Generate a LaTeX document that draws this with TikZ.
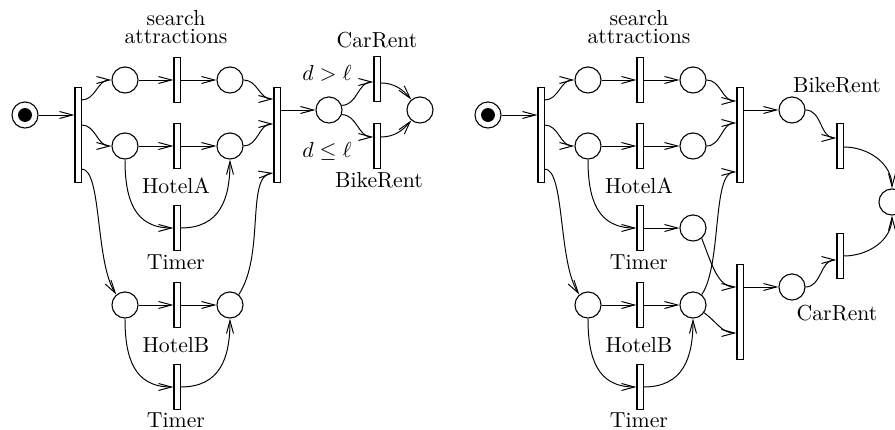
\documentclass[tikz,border=0pt]{standalone}
\usetikzlibrary{arrows.meta,calc}
\begin{document}
\begin{tikzpicture}[x=0.46pt,y=-0.46pt,
  place/.style={circle,draw,line width=0.5pt,minimum size=12pt,inner sep=0pt},
  trans/.style={rectangle,draw,line width=0.5pt,minimum width=2.8pt,minimum height=21pt,inner sep=0pt},
  bigtrans/.style={trans,minimum height=44pt},
  lbl/.style={inner sep=0pt,align=center},
  arr/.style={line width=0.45pt,-{Straight Barb[length=6pt,width=3.2pt]}}]
\useasboundingbox (0,0) rectangle (895,430);

% ---------- left net ----------
\node[place] (p0) at (25,115) {};
\fill (p0) circle (3.2pt);
\node[bigtrans] (t0) at (78,135) {};
\node[place] (pA1) at (125,80) {};
\node[trans] (tS) at (177,80) {};
\node[place] (pA2) at (230,80) {};
\node[place] (pB1) at (125,146) {};
\node[trans] (tHA) at (177,146) {};
\node[place] (pB2) at (230,146) {};
\node[trans] (tT1) at (177,228) {};
\node[place] (pC1) at (125,305) {};
\node[trans] (tHB) at (177,305) {};
\node[place] (pC2) at (230,305) {};
\node[trans] (tT2) at (177,387) {};
\node[bigtrans] (tj) at (277,135) {};
\node[place] (pd) at (329,110) {};
\node[trans] (tCar) at (377,79) {};
\node[trans] (tBike) at (377,146) {};
\node[place] (pf) at (420,110) {};

\node[lbl] (lS) at (176,27) {search\\[-3.5pt]attractions};
\node[lbl] (lHA) at (176,186) {HotelA};
\node[lbl] (lT1) at (176,262) {Timer};
\node[lbl] (lHB) at (176,345) {HotelB};
\node[lbl] (lT2) at (176,420) {Timer};
\node[lbl] (lCar) at (377,40) {CarRent};
\node[lbl] (lBike) at (379,180) {BikeRent};
\node[lbl] (lg) at (327,73) {$d>\ell$};
\node[lbl] (ll) at (327,151) {$d\leq\ell$};

\draw[arr] (p0) -- (t0.west |- p0);
\draw[arr] ($(t0.east)+(0,-35)$) to[out=0,in=180] (pA1);
\draw[arr] ($(t0.east)+(0,-10)$) to[out=0,in=180] (pB1);
\draw[arr] ($(t0.east)+(0,34)$) .. controls (102,169) and (95,262) .. (pC1.130);
\draw[arr] (pA1) -- (tS);
\draw[arr] (tS) -- (pA2);
\draw[arr] (pB1) -- (tHA);
\draw[arr] (tHA) -- (pB2);
\draw[arr] (pC1) -- (tHB);
\draw[arr] (tHB) -- (pC2);
\draw[arr] (pB1) to[out=-90,in=180,looseness=1.2] (tT1.west);
\draw[arr] (tT1.east) to[out=0,in=-90,looseness=1.2] (pB2);
\draw[arr] (pC1) to[out=-90,in=180,looseness=1.2] (tT2.west);
\draw[arr] (tT2.east) to[out=0,in=-90,looseness=1.2] (pC2);
\draw[arr] (pA2) to[out=0,in=180] ($(tj.west)+(0,-36)$);
\draw[arr] (pB2) to[out=0,in=180] ($(tj.west)+(0,-11)$);
\draw[arr] (pC2.50) .. controls (265,255) and (246,176) .. ($(tj.west)+(0,38)$);
\draw[arr] (tj.east |- pd) -- (pd);
\draw[arr] (pd.20) to[out=0,in=180] ($(tCar.west)+(0,3)$);
\draw[arr] (pd.-20) to[out=0,in=180] ($(tBike.west)+(0,-9)$);
\draw[arr] ($(tCar.east)+(0,4)$) to[out=0,in=130] (pf);
\draw[arr] ($(tBike.east)+(0,-9)$) to[out=0,in=230] (pf);

% ---------- right net ----------
\node[place] (q0) at (488,115) {};
\fill (q0) circle (3.2pt);
\node[bigtrans] (s0) at (541,135) {};
\node[place] (qA1) at (588,80) {};
\node[trans] (sS) at (640,80) {};
\node[place] (qA2) at (693,80) {};
\node[place] (qB1) at (588,146) {};
\node[trans] (sHA) at (640,146) {};
\node[place] (qB2) at (693,146) {};
\node[trans] (sT1) at (640,228) {};
\node[place] (qT1) at (693,228) {};
\node[place] (qC1) at (588,305) {};
\node[trans] (sHB) at (640,305) {};
\node[place] (qC2) at (693,305) {};
\node[trans] (sT2) at (640,387) {};
\node[bigtrans] (sj1) at (740,135) {};
\node[bigtrans] (sj2) at (740,312) {};
\node[place] (qBike) at (792,110) {};
\node[trans] (sBike) at (840,146) {};
\node[place] (qCar) at (792,287) {};
\node[trans] (sCar) at (840,256) {};
\node[place] (qf) at (892,202) {};

\node[lbl] (mS) at (639,27) {search\\[-3.5pt]attractions};
\node[lbl] (mHA) at (639,186) {HotelA};
\node[lbl] (mT1) at (639,262) {Timer};
\node[lbl] (mHB) at (639,345) {HotelB};
\node[lbl] (mT2) at (639,420) {Timer};
\node[lbl] (mBike) at (837,85) {BikeRent};
\node[lbl] (mCar) at (837,313) {CarRent};

\draw[arr] (q0) -- (s0.west |- q0);
\draw[arr] ($(s0.east)+(0,-35)$) to[out=0,in=180] (qA1);
\draw[arr] ($(s0.east)+(0,-10)$) to[out=0,in=180] (qB1);
\draw[arr] ($(s0.east)+(0,34)$) .. controls (565,169) and (558,262) .. (qC1.130);
\draw[arr] (qA1) -- (sS);
\draw[arr] (sS) -- (qA2);
\draw[arr] (qB1) -- (sHA);
\draw[arr] (sHA) -- (qB2);
\draw[arr] (sT1) -- (qT1);
\draw[arr] (qC1) -- (sHB);
\draw[arr] (sHB) -- (qC2);
\draw[arr] (qB1) to[out=-90,in=180,looseness=1.2] (sT1.west);
\draw[arr] (qC1) to[out=-90,in=180,looseness=1.2] (sT2.west);
\draw[arr] (sT2.east) to[out=0,in=-90,looseness=1.2] (qC2);
\draw[arr] (qA2) to[out=0,in=180] ($(sj1.west)+(0,-34)$);
\draw[arr] (qB2) to[out=0,in=180] ($(sj1.west)+(0,-12)$);
\draw[arr] (qC2.50) .. controls (722,265) and (712,172) .. ($(sj1.west)+(0,37)$);
\draw[arr] (qT1.-50) .. controls (712,265) and (718,287) .. ($(sj2.west)+(0,-25)$);
\draw[arr] (qC2.-35) to[out=-35,in=180] ($(sj2.west)+(0,21)$);
\draw[arr] (sj1.east |- qBike) -- (qBike);
\draw[arr] (sj2.east |- qCar) -- (qCar);
\draw[arr] (qBike) to[out=0,in=180] ($(sBike.west)+(0,-8)$);
\draw[arr] (qCar) to[out=0,in=180] ($(sCar.west)+(0,4)$);
\draw[arr] ($(sBike.east)+(0,1)$) to[out=0,in=90] (qf);
\draw[arr] (sCar.east) to[out=0,in=-90] (qf);
\end{tikzpicture}
\end{document}
